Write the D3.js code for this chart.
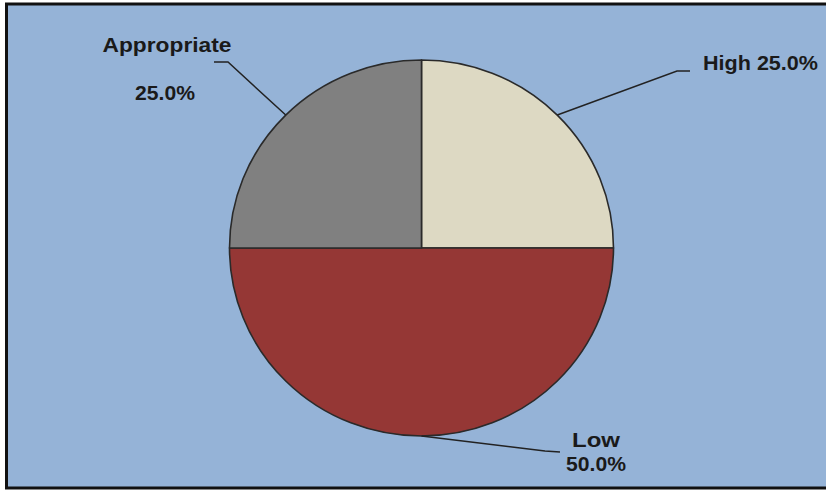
<!DOCTYPE html>
<html>
<head>
<meta charset="utf-8">
<script src="https://d3js.org/d3.v7.min.js"></script>
<style>
  html, body { margin: 0; padding: 0; background: #fff; }
  svg text { font-family: "Liberation Sans", Arial, sans-serif; font-weight: bold; fill: #1a1a1a; }
</style>
</head>
<body>
<div id="chart"></div>
<script>
// slices in drawing order (clockwise from 12 o'clock)
var categories = ["High", "Low", "Appropriate"];
var values = [25, 50, 25];
var pctLabels = ["25.0%", "50.0%", "25.0%"];
var colors = ["#DDD9C3", "#953735", "#808080"];

var width = 826, height = 490;
var cx = 421.5, cy = 248, ry = 188, rx = 192;

var svg = d3.select("#chart").append("svg")
  .attr("width", width)
  .attr("height", height);

// plot area background + frame
svg.append("rect")
  .attr("x", 6.5).attr("y", 4)
  .attr("width", 830).attr("height", 484)
  .attr("fill", "#95B3D7")
  .attr("stroke", "#111")
  .attr("stroke-width", 3);

var pie = d3.pie().sort(null).value(function (d) { return d; });
var arcs = pie(values);
var arc = d3.arc().innerRadius(0).outerRadius(ry);

// the source picture is slightly stretched sideways
var g = svg.append("g")
  .attr("transform", "translate(" + cx + "," + cy + ") scale(" + (rx / ry) + ",1)");

g.selectAll("path.slice")
  .data(arcs)
  .enter().append("path")
    .attr("class", "slice")
    .attr("d", arc)
    .attr("fill", function (d, i) { return colors[i]; })
    .attr("stroke", "#2a2a2a")
    .attr("stroke-width", 1.6)
    .attr("vector-effect", "non-scaling-stroke")
    .attr("stroke-linejoin", "round");

// leader lines: from slice midpoint on the rim to an elbow, then a short run
var leaders = [
  { elbow: [677, 71], end: [690, 71] },
  { elbow: [545, 451], end: [560, 452] },
  { elbow: [228, 62], end: [214, 62] }
];

arcs.forEach(function (a, i) {
  var mid = (a.startAngle + a.endAngle) / 2;
  var px = cx + Math.sin(mid) * rx;
  var py = cy - Math.cos(mid) * ry;
  var L = leaders[i];
  svg.append("polyline")
    .attr("points", [[px, py], L.elbow, L.end].map(function (p) { return p.join(","); }).join(" "))
    .attr("fill", "none")
    .attr("stroke", "#222")
    .attr("stroke-width", 1.5);
});

var fs = 20;

function label(x, y, txt, len, anchor) {
  svg.append("text")
    .attr("x", x).attr("y", y)
    .attr("text-anchor", anchor || "middle")
    .attr("textLength", len)
    .attr("lengthAdjust", "spacingAndGlyphs")
    .style("font-size", fs + "px")
    .text(txt);
}

label(703, 70, categories[0] + " " + pctLabels[0], 115, "start");
label(596, 447, categories[1], 48);
label(596, 471, pctLabels[1], 60);
label(167, 52, categories[2], 129);
label(165, 100, pctLabels[2], 60);
</script>
</body>
</html>
